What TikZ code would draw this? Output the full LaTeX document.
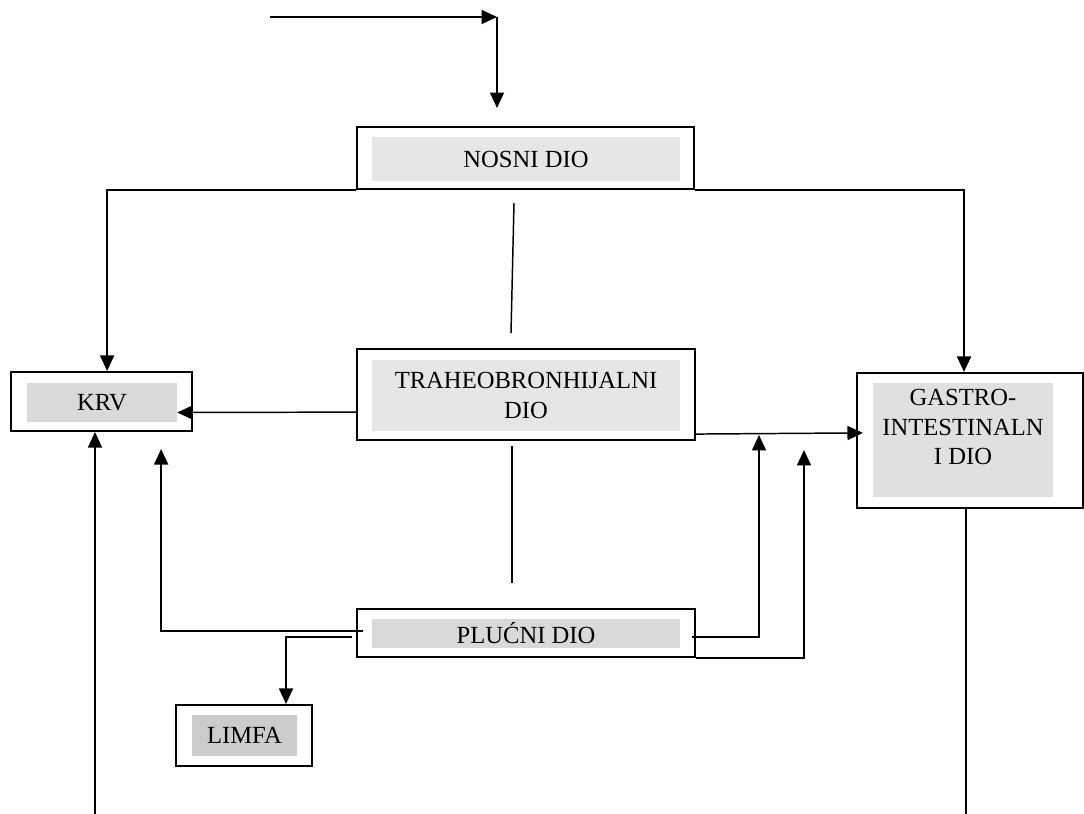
\documentclass[tikz,border=0pt]{standalone}
\usepackage{fontspec}
\setmainfont{Liberation Serif}
\usetikzlibrary{arrows.meta}

\definecolor{grA}{HTML}{E6E6E6}
\definecolor{grB}{HTML}{D9D9D9}
\definecolor{grC}{HTML}{CCCCCC}
\definecolor{grD}{HTML}{E0E0E0}

\tikzset{
  outerbox/.style={draw, line width=1.5pt, inner sep=0pt},
  greybox/.style={fill=#1, inner sep=0pt, align=center, font=\fontsize{17.5}{21}\selectfont},
  lbl/.style={inner sep=0pt, align=center, font=\fontsize{17.5}{21}\selectfont},
  link/.style={line width=1.05pt},
  arr/.style={link, -{Triangle[length=11pt,width=10pt]}},
}

\begin{document}
\begin{tikzpicture}[x=0.025cm, y=-0.025cm]
        \useasboundingbox (0,0) rectangle (1084,814);

        % nasal part on top
        \node[outerbox, minimum width=8.425cm, minimum height=1.55cm] (nosni) at (525.5,158) {};
        \node[greybox=grA, minimum width=7.7cm, minimum height=1.1cm] (nosnitxt) at (526,159) {NOSNI DIO};

        % tracheobronchial part in the middle
        \node[outerbox, minimum width=8.45cm, minimum height=2.275cm] (traheo) at (526,394.5) {};
        \node[greybox=grA, minimum width=7.7cm, minimum height=1.775cm] (traheotxt) at (526,395.5) {TRAHEOBRONHIJALNI\\DIO};

        % pulmonary part
        \node[outerbox, minimum width=8.45cm, minimum height=1.2cm] (plucni) at (526,633) {};
        \node[greybox=grB, minimum width=7.7cm, minimum height=0.725cm] (plucnitxt) at (526,633.5) {PLUĆNI DIO};

        % blood on the left
        \node[outerbox, minimum width=4.525cm, minimum height=1.475cm] (krv) at (101.5,401.5) {};
        \node[greybox=grB, minimum width=3.75cm, minimum height=0.975cm] (krvtxt) at (102,402.5) {KRV};

        % lymph below
        \node[outerbox, minimum width=3.4cm, minimum height=1.525cm] (limfa) at (244,735.5) {};
        \node[greybox=grC, minimum width=2.625cm, minimum height=1.025cm] (limfatxt) at (244.5,735.5) {LIMFA};

        % gastrointestinal part on the right
        \node[outerbox, minimum width=5.65cm, minimum height=3.375cm] (gi) at (970,440.5) {};
        \node[greybox=grD, minimum width=4.5cm, minimum height=2.85cm] (gibg) at (963,440) {};
        \node[lbl] (gitxt) at (963,427) {GASTRO-\\INTESTINALN\\I DIO};

        % entry arrow at the top
        \coordinate (src) at (270,17);
        \coordinate (bend) at (497,17);
        \coordinate (drop) at (497,108);
        \draw[arr] (src) -- (bend);
        \draw[arr] (bend) -- (drop);

        % nosni down to krv and gi
        \draw[arr] (nosni.south west) -| ([xshift=0.14cm]krv.north);
        \draw[arr] (nosni.south east) -| ([xshift=-0.15cm]gi.north);

        % loose strokes above and below traheo
        \coordinate (s1) at (514,203);
        \coordinate (s2) at (511,333);
        \coordinate (s3) at (512,446);
        \coordinate (s4) at (512,583);
        \draw[link] (s1) -- (s2);
        \draw[link] (s3) -- (s4);

        % traheo to krv and gi
        \draw[arr] ([yshift=-0.44cm]traheo.west) -- ([yshift=-0.25cm]krvtxt.east);
        \draw[arr] ([yshift=0.175cm]traheo.south east) -- ([xshift=0.175cm,yshift=0.19cm]gi.west);

        % plucni outputs
        \coordinate (up1) at (759,435);
        \coordinate (up2) at (804,450);
        \draw[arr] ([xshift=0.175cm,yshift=0.05cm]plucni.west) -| ([xshift=1.49cm,yshift=-0.425cm]krv.south);
        \draw[arr] ([xshift=-0.1cm,yshift=-0.1cm]plucni.west) -| ([xshift=1.05cm]limfa.north);
        \draw[arr] ([xshift=-0.1cm,yshift=-0.1cm]plucni.east) -| (up1);
        \draw[arr] (plucni.south east) -| (up2);

        % lines at the bottom edge
        \coordinate (low1) at (95,814);
        \coordinate (low2) at (966,814);
        \draw[arr] (low1) -- (low1 |- krv.south);
        \draw[link] (low2 |- gi.south) -- (low2);

\end{tikzpicture}
\end{document}
